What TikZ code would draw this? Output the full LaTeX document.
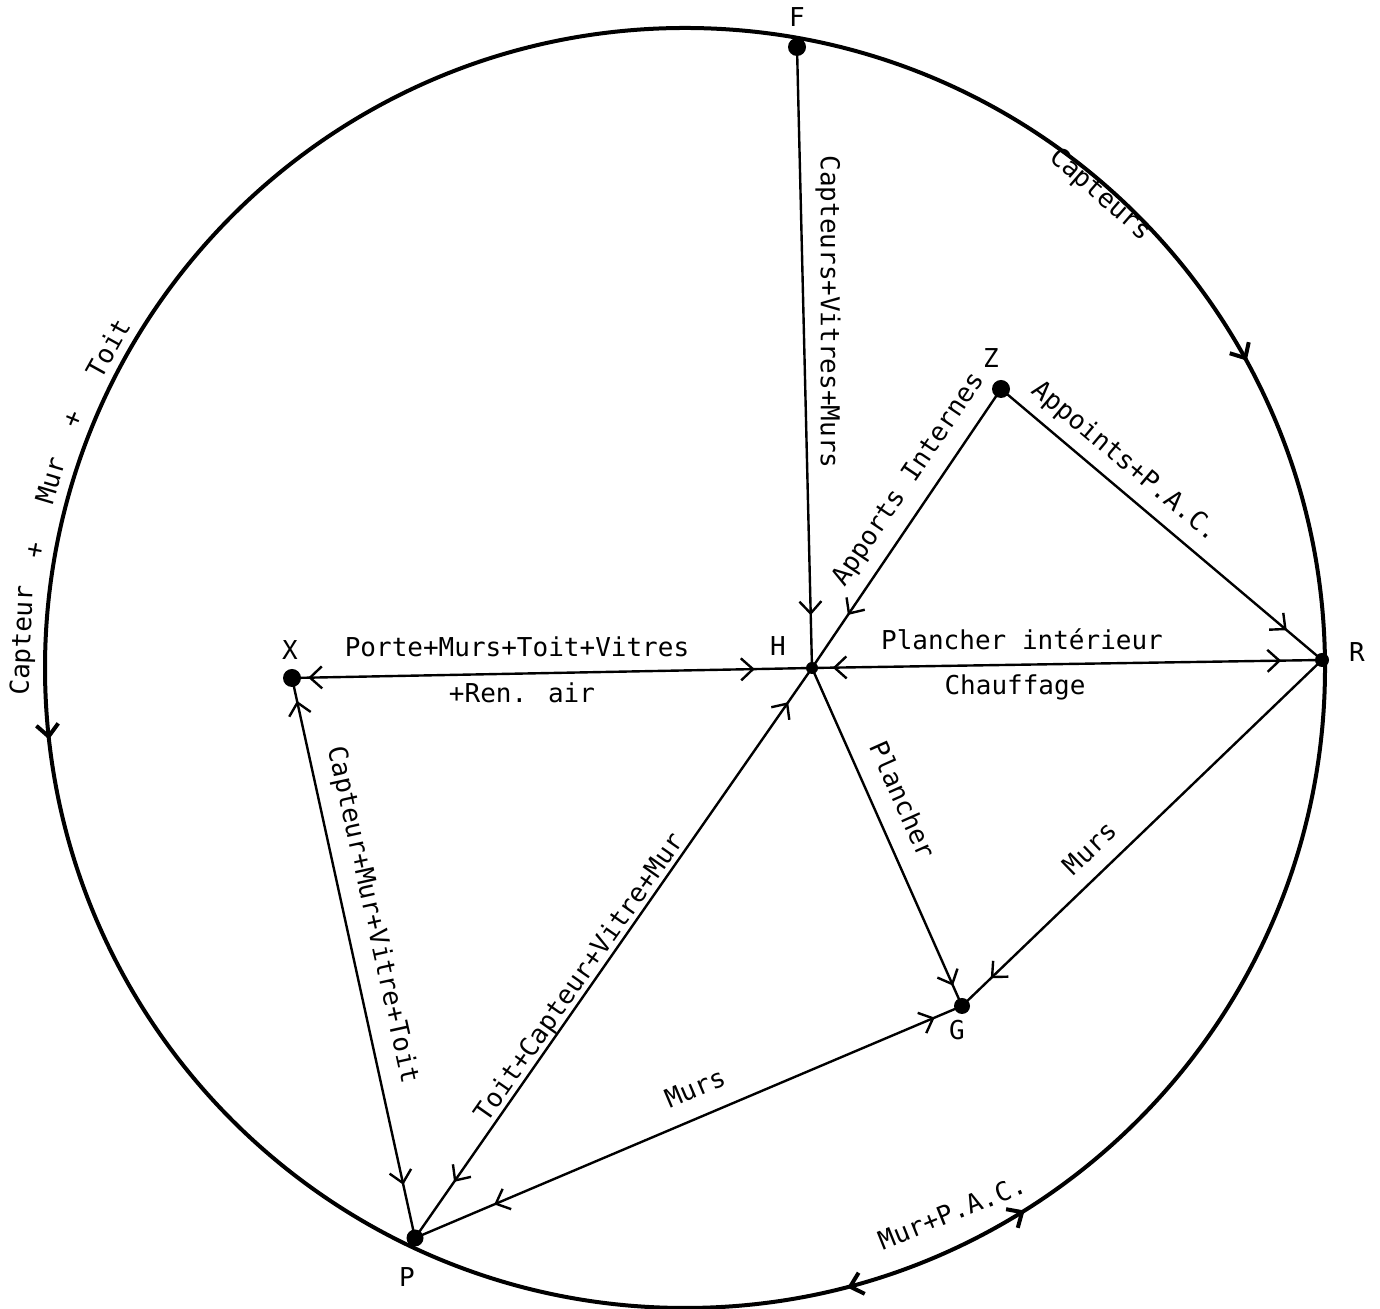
\documentclass[tikz,border=0pt]{standalone}
\usepackage{fontspec}
\setmainfont{DejaVu Sans Mono}
\usetikzlibrary{arrows.meta,decorations.markings}
\newcommand\arrF{\arrow{Straight Barb[length=6pt,width=11pt]}}
\newcommand\arrB{\arrow{Straight Barb[length=6pt,width=11pt,reversed]}}
\begin{document}
\begin{tikzpicture}[x=0.5pt,y=0.5pt,
  dot/.style={circle,fill=black,inner sep=0pt,minimum size=8pt},
  lab/.style={font=\fontsize{13pt}{15pt}\selectfont,inner sep=1pt},
  ln/.style={line width=1.2pt,postaction={decorate}},
  rim/.style={line width=2pt,postaction={decorate}}]
\useasboundingbox (0,0) rectangle (1380,1309);
\coordinate (O) at (685,641);
% circle with arrows
\draw[rim,decoration={markings,
   mark=at position 0.0839 with {\arrB},
   mark=at position 0.5178 with {\arrF},
   mark=at position 0.795 with {\arrB},
   mark=at position 0.839 with {\arrF}}] (O) circle (640);
% points
\node[dot,minimum size=9pt] (F) at (797,1262) {};
\node[dot,minimum size=9pt] (Z) at (1001,920) {};
\node[dot,minimum size=6pt] (H) at (812,641) {};
\node[dot,minimum size=7pt] (R) at (1322,649) {};
\node[dot,minimum size=9pt] (X) at (292,631) {};
\node[dot,minimum size=8pt] (G) at (962,303) {};
\node[dot,minimum size=8.5pt] (P) at (415,71) {};
% point labels
\node[lab] (lF) at (797,1292) {F};
\node[lab] (lZ) at (991,951) {Z};
\node[lab] (lH) at (778,663) {H};
\node[lab] (lR) at (1357,657) {R};
\node[lab] (lX) at (290,659) {X};
\node[lab] (lG) at (957,279) {G};
\node[lab] (lP) at (407,32) {P};
% edges
\draw[ln,decoration={markings,mark=at position 0.915 with {\arrF}}] (F.center) -- (H.center);
\draw[ln,decoration={markings,mark=at position 0.81 with {\arrF}}] (Z.center) -- (H.center);
\draw[ln,decoration={markings,mark=at position 0.89 with {\arrF}}] (Z.center) -- (R.center);
\draw[ln,decoration={markings,mark=at position 0.07 with {\arrB},mark=at position 0.92 with {\arrF}}] (H.center) -- (R.center);
\draw[ln,decoration={markings,mark=at position 0.06 with {\arrB},mark=at position 0.89 with {\arrF}}] (X.center) -- (H.center);
\draw[ln,decoration={markings,mark=at position 0.067 with {\arrB},mark=at position 0.905 with {\arrF}}] (X.center) -- (P.center);
\draw[ln,decoration={markings,mark=at position 0.12 with {\arrB},mark=at position 0.94 with {\arrF}}] (P.center) -- (H.center);
\draw[ln,decoration={markings,mark=at position 0.17 with {\arrB},mark=at position 0.95 with {\arrF}}] (P.center) -- (G.center);
\draw[ln,decoration={markings,mark=at position 0.94 with {\arrF}}] (H.center) -- (G.center);
\draw[ln,decoration={markings,mark=at position 0.92 with {\arrF}}] (R.center) -- (G.center);
% edge labels
\node[lab,rotate=-90] (t1) at (828,997) {Capteurs+Vitres+Murs};
\node[lab,rotate=56] (t2) at (909,829) {Apports Internes};
\node[lab,rotate=-40] (t3) at (1125,847) {Appoints+P.A.C.};
\node[lab] (t4) at (1022,670) {Plancher intérieur};
\node[lab] (t5) at (1015,622) {Chauffage};
\node[lab] (t6) at (517,662) {Porte+Murs+Toit+Vitres};
\node[lab] (t7) at (522,616) {+Ren. air};
\node[lab,rotate=-77.5] (t8) at (372,394) {Capteur+Mur+Vitre+Toit};
\node[lab,rotate=55] (t9) at (580,331) {Toit+Capteur+Vitre+Mur};
\node[lab,rotate=23] (t10) at (695,221) {Murs};
\node[lab,rotate=-66] (t11) at (903,509) {Plancher};
\node[lab,rotate=44] (t12) at (1090,461) {Murs};
% arc labels
\node[lab,rotate=-41] (c1) at (1100,1114) {Capteurs};
\node[lab,rotate=87.6] (c2) at ([shift={(177.6:662)}]O) {Capteur};
\node[lab,rotate=79.7] (c3) at ([shift={(169.7:660)}]O) {+};
\node[lab,rotate=73.5] (c4) at ([shift={(163.5:662)}]O) {Mur};
\node[lab,rotate=67.9] (c5) at ([shift={(157.9:660)}]O) {+};
\node[lab,rotate=61] (c6) at ([shift={(151:660)}]O) {Toit};
\node[lab,rotate=22] (c7) at (952,97) {Mur+P.A.C.};
\end{tikzpicture}
\end{document}
